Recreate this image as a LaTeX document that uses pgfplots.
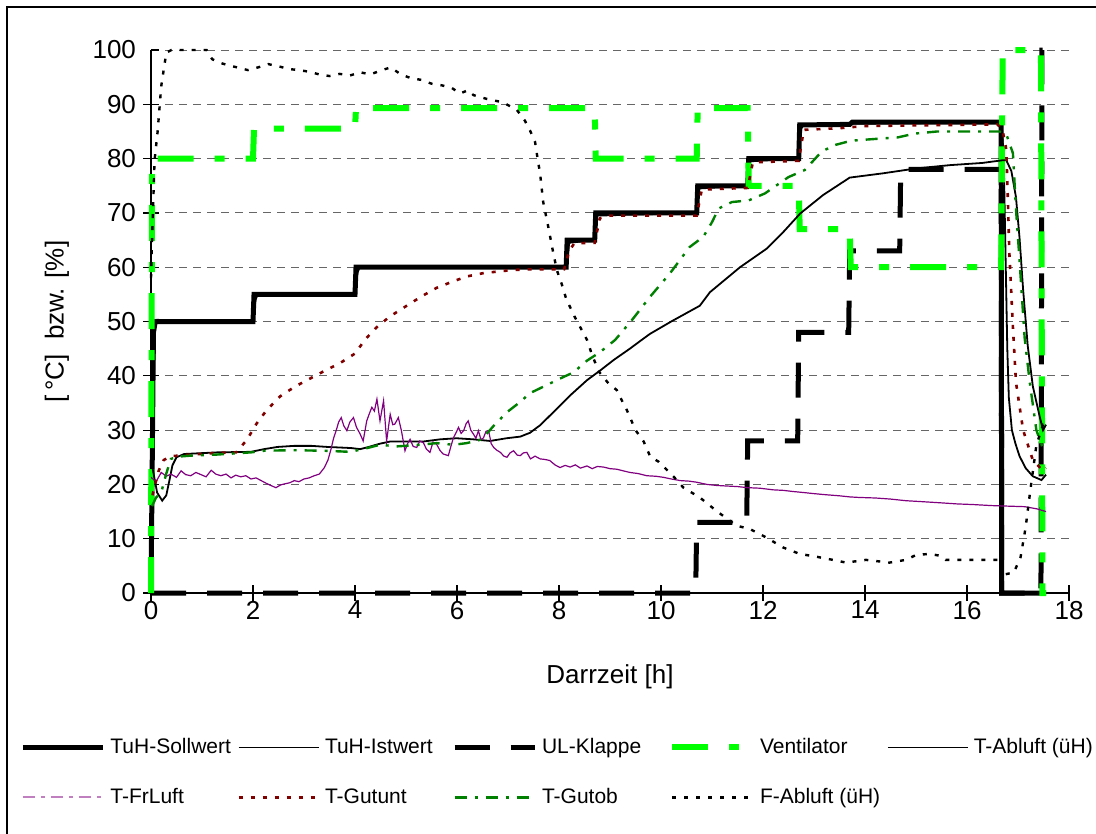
\documentclass[border=0pt]{standalone}
\usepackage{fontspec}
\setmainfont{Liberation Sans}
\usepackage{pgfplots}
\pgfplotsset{compat=1.18}
\definecolor{vgreen}{RGB}{0,255,0}
\definecolor{dgreen}{RGB}{0,128,0}
\definecolor{dred}{RGB}{128,0,0}
\definecolor{fpurple}{RGB}{128,0,128}
\definecolor{lpurple}{RGB}{192,128,192}
\begin{document}
\begin{tikzpicture}
\useasboundingbox (0pt,0pt) rectangle (548pt,-417pt);
\draw[line width=1pt] (3.5pt,-417pt) -- (3.5pt,-3.5pt) -- (548pt,-3.5pt);
\begin{axis}[
  at={(75.5pt,-296.5pt)}, anchor=south west,
  scale only axis, width=459pt, height=271.5pt,
  xmin=0, xmax=18, ymin=0, ymax=100,
  xtick={0,2,...,18}, ytick={0,10,...,100},
  axis lines*=left,
  axis line style={line width=0.6pt},
  clip=false,
  ymajorgrids,
  major grid style={dash pattern=on 4pt off 3pt, line width=0.5pt, black!60},
  major tick length=8pt,
  xtick align=center,
  ytick align=center,
  tick style={line width=0.6pt, black},
  y tick style={shorten <=4pt},
  /pgf/number format/assume math mode=true,
  tick label style={font=\fontsize{13}{15}\selectfont},
  xticklabel style={yshift=3.5pt},
  xlabel={Darrzeit [h]}, ylabel={[\,°C]\ \ bzw. [\%]},
  label style={font=\fontsize{13}{15}\selectfont},
  xlabel style={at={(axis description cs:0.5,-0.1547)}, anchor=center},
  ylabel style={at={(axis description cs:-0.1024,0.5)}, anchor=center},
  legend columns=5,
  legend style={at={(axis description cs:-0.1427,-0.2615)}, anchor=north west, draw=none, fill=none, inner sep=0pt, font=\fontsize{10.5}{12}\selectfont, nodes={inner sep=0pt, minimum height=12pt}, /tikz/column sep=0pt, /tikz/row sep=13pt},
  legend cell align=left,
  legend image code/.code={\draw[#1] (0pt,0pt) -- (40pt,0pt);},
]
% TuH-Sollwert
\addplot[black, line width=2.5pt] coordinates {
(0,0) (0.05,50) (2.0,50) (2.02,55) (4.0,55) (4.02,60) (8.14,60) (8.16,65) (8.7,65) (8.72,70) (10.7,70) (10.72,75) (11.7,75) (11.72,80) (12.7,80) (12.72,86.2) (13.7,86.3) (13.75,86.7) (16.67,86.7) (16.68,0) (17.55,0)};
\addlegendentry{\hspace{2.5pt}\makebox[63.5pt][l]{TuH-Sollwert}}
% TuH-Istwert
\addplot[black, line width=0.9pt] coordinates {
(0,24) (0.03,30) (0.08,48) (0.12,50.3) (1,50.2) (2.0,50.2) (2.05,54) (2.1,55.2) (4.0,55.2) (4.05,59) (4.1,60.2) (8.15,60) (8.2,64.5) (8.7,65) (8.75,69.5) (10.7,70) (10.75,74.5) (11.7,75) (11.75,79.5) (12.7,80) (12.75,85.5) (12.8,86.3) (16.67,86.7) (16.68,86.5) (16.72,80) (16.76,60) (16.79,45) (16.82,36) (16.88,30) (16.95,27.5) (17.03,25.2) (17.15,23) (17.29,21.5) (17.46,20.8) (17.55,21.8)};
\addlegendentry{\hspace{2.5pt}\makebox[63.5pt][l]{TuH-Istwert}}
% UL-Klappe
\addplot[black, line width=2.5pt, dash pattern=on 17.5pt off 10.5pt] coordinates {
(0,0) (10.68,0) (10.7,13) (11.68,13) (11.7,28) (12.68,28) (12.7,48) (13.68,48) (13.7,63) (14.68,63) (14.7,78) (16.67,78) (16.68,0) (17.45,0) (17.47,100) (17.55,100)};
\addlegendentry{\hspace{2.5pt}\makebox[63.5pt][l]{UL-Klappe}}
% Ventilator
\addplot[vgreen, line width=3pt, dash pattern=on 18pt off 10.5pt on 5pt off 10.5pt] coordinates {
(0,0) (0.02,80) (2.0,80) (2.02,85.5) (4.0,85.5) (4.02,89.3) (8.7,89.3) (8.72,80) (10.7,80) (10.72,89.3) (11.7,89.3) (11.72,75) (12.7,75) (12.72,67) (13.7,67) (13.72,60) (16.67,60) (16.7,100) (17.45,100) (17.48,0) (17.55,0)};
\addlegendentry{\hspace{2.5pt}\makebox[63.5pt][l]{Ventilator}}
% T-Abluft
\addplot[black, line width=0.9pt] coordinates {
(0,24.5) (0.05,22) (0.12,18.5) (0.22,17) (0.3,18) (0.36,20.7) (0.42,23.5) (0.5,25) (0.65,25.6) (1.3,25.9) (1.96,26) (2.22,26.5) (2.48,26.9) (2.81,27.1) (3.14,27.1) (3.46,26.9) (3.92,26.7) (4.1,26.5) (4.23,26.8) (4.49,27.5) (4.69,27.9) (5.34,27.9) (5.67,28.3) (5.99,28.5) (6.32,28.3) (6.65,28) (6.97,28.5) (7.24,28.8) (7.43,29.5) (7.63,30.9) (7.89,33.3) (8.22,36.4) (8.55,39.2) (8.81,41) (9.07,42.9) (9.39,45) (9.62,46.6) (9.78,47.7) (10.2,50) (10.76,52.9) (10.96,55.4) (11.55,60) (12.07,63.4) (12.4,66.5) (12.73,69.9) (13.18,73.3) (13.7,76.5) (14.36,77.3) (15.01,78.2) (15.67,78.8) (16.3,79.2) (16.7,79.7) (16.77,79.7) (16.87,77.7) (16.96,72.9) (17.03,65.4) (17.1,55.9) (17.19,45.6) (17.29,38.1) (17.42,32.7) (17.49,30) (17.55,31)};
\addlegendentry{\hspace{2.5pt}\makebox[63.5pt][l]{T-Abluft (üH)}}
% T-FrLuft
\addplot[fpurple, line width=0.6pt, legend image post style={lpurple, line width=1pt, dash pattern=on 6pt off 3pt on 2pt off 3pt}] coordinates {
(0,21.3) (0.1,20.5) (0.2,22.2) (0.3,21.5) (0.39,21.9) (0.5,21.3) (0.59,22.5) (0.68,21.8) (0.78,21.6) (0.88,22.2) (0.98,21.8) (1.08,21.4) (1.18,22.6) (1.27,21.9) (1.37,21.6) (1.47,21.9) (1.57,21.2) (1.66,21.7) (1.76,21.4) (1.86,21.6) (1.96,21.0) (2.06,21.2) (2.16,20.7) (2.26,20.2) (2.35,19.8) (2.45,19.4) (2.54,19.9) (2.62,20.1) (2.72,20.3) (2.81,20.7) (2.9,20.5) (3.0,21.0) (3.1,21.2) (3.2,21.6) (3.3,21.9) (3.4,23.1) (3.47,24.5) (3.53,26.5) (3.58,28.5) (3.63,29.9) (3.68,31.5) (3.73,32.3) (3.78,30.8) (3.84,29.9) (3.9,31.5) (3.97,32.3) (4.03,30.5) (4.1,29.3) (4.16,28) (4.23,31.7) (4.28,33) (4.33,34.2) (4.38,33.5) (4.43,35.7) (4.49,31.7) (4.56,35.4) (4.62,28) (4.69,32.9) (4.74,31) (4.78,31.1) (4.85,32.3) (4.91,29.9) (4.98,26.2) (5.03,27.5) (5.08,28.3) (5.14,27) (5.21,26.8) (5.27,28) (5.34,27.7) (5.4,26.5) (5.47,25.9) (5.53,27.8) (5.6,27.4) (5.67,26.2) (5.73,25.6) (5.83,25.3) (5.88,27) (5.93,28.6) (5.98,29.5) (6.03,30.5) (6.08,29.4) (6.13,29.9) (6.18,31.2) (6.22,31.7) (6.27,30) (6.32,29.3) (6.37,28.5) (6.42,29.9) (6.47,28.2) (6.52,28.6) (6.57,29.8) (6.62,29.9) (6.67,27.5) (6.72,26.8) (6.78,26.3) (6.85,25.9) (6.92,25.2) (6.98,25) (7.04,25.8) (7.11,26.2) (7.18,25.4) (7.24,25.3) (7.3,25.8) (7.37,25.9) (7.44,24.7) (7.53,25.2) (7.63,24.7) (7.72,24.6) (7.82,24.4) (7.92,23.6) (8.02,23.1) (8.12,23.5) (8.22,23.2) (8.32,23.6) (8.42,23.0) (8.55,23.4) (8.65,22.9) (8.75,23.3) (8.87,23.2) (9.0,22.9) (9.13,22.8) (9.26,22.5) (9.39,22.2) (9.55,22.0) (9.72,21.6) (9.9,21.5) (10.05,21.3) (10.2,21.0) (10.38,20.7) (10.55,20.6) (10.7,20.4) (10.9,20.0) (11.1,19.8) (11.3,19.7) (11.5,19.6) (11.7,19.4) (11.94,19.3) (12.2,19.0) (12.4,18.9) (12.58,18.7) (12.8,18.5) (13.0,18.3) (13.23,18.1) (13.5,17.9) (13.7,17.7) (13.88,17.6) (14.2,17.5) (14.5,17.3) (14.8,17.0) (15.16,16.8) (15.5,16.6) (15.82,16.4) (16.1,16.3) (16.48,16.1) (16.8,16.0) (17.13,15.9) (17.37,15.5) (17.55,15.0)};
\addlegendentry{\hspace{2.5pt}\makebox[63.5pt][l]{T-FrLuft}}
% T-Gutunt
\addplot[dred, line width=1.3pt, dash pattern=on 2pt off 4pt] coordinates {
(0.03,18) (0.08,20) (0.15,22.5) (0.25,24.5) (0.4,25.2) (0.8,25.5) (1.3,25.8) (1.67,25.9) (1.88,28.2) (2.07,31.2) (2.27,33.7) (2.53,36.2) (2.82,38) (3.12,39.5) (3.44,41.1) (3.7,42.3) (4.0,44.1) (4.2,46.7) (4.42,48.9) (4.68,50.9) (4.98,52.7) (5.3,54.6) (5.6,56.2) (5.9,57.3) (6.19,58.3) (6.51,58.9) (6.8,59.2) (7.1,59.5) (7.42,59.6) (8.1,59.6) (8.2,63) (8.3,64.4) (8.7,64.5) (8.8,69) (9.0,69.5) (10.7,69.5) (10.8,74.3) (11.7,74.6) (11.8,79.3) (12.7,79.6) (12.8,85.3) (13.5,85.6) (14,86) (16.6,86.3) (16.7,85.1) (16.77,81.7) (16.8,72.9) (16.83,62.7) (16.9,49) (16.96,38.8) (17.1,30) (17.29,24.5) (17.49,22.5) (17.55,23)};
\addlegendentry{\hspace{2.5pt}\makebox[63.5pt][l]{T-Gutunt}}
% T-Gutob
\addplot[dgreen, line width=1.2pt, dash pattern=on 6pt off 4pt on 1.5pt off 4pt] coordinates {
(0.02,16) (0.1,17.6) (0.2,18.5) (0.3,22) (0.39,24.7) (0.52,25.1) (0.78,25.3) (1.3,25.5) (1.96,25.9) (2.22,26.2) (2.75,26.3) (3.4,26.2) (3.9,26) (4.16,26.5) (4.49,27.3) (4.82,27) (5.27,27.3) (5.6,27.6) (5.93,27.3) (6.19,27.6) (6.45,28.2) (6.58,29.3) (6.72,30.8) (6.98,33.3) (7.24,35.2) (7.43,36.8) (7.76,38.3) (8.09,39.8) (8.28,40.6) (8.55,42.8) (8.81,44.4) (9.1,46.6) (9.45,50.5) (9.78,54.5) (10.17,58.8) (10.56,63.7) (10.83,65.6) (11.0,68.3) (11.13,70.8) (11.39,72.0) (11.72,72.3) (12.04,73.6) (12.5,76.6) (12.82,77.9) (13.15,81.3) (13.41,82.5) (13.73,83.3) (14.32,83.7) (14.64,83.9) (14.97,84.6) (15.42,85.0) (16.0,85.0) (16.64,85.0) (16.77,84.5) (16.9,81) (16.96,70.8) (17.03,61.3) (17.13,47) (17.23,38.8) (17.36,30) (17.49,26.6) (17.55,26.5)};
\addlegendentry{\hspace{2.5pt}\makebox[63.5pt][l]{T-Gutob}}
% F-Abluft
\addplot[black, line width=1.2pt, dash pattern=on 2pt off 4pt] coordinates {
(0,58) (0.03,68) (0.07,79.7) (0.13,85) (0.2,93.3) (0.3,99.5) (0.4,100) (1.09,100) (1.2,98.3) (1.4,97.5) (1.6,97) (1.9,96.3) (2.1,96.8) (2.3,97.4) (2.5,97) (2.7,96.5) (2.9,96.3) (3.1,96) (3.3,95.5) (3.5,95.2) (3.7,95.6) (3.9,95.3) (4.1,95.9) (4.3,95.5) (4.5,96.2) (4.7,96.8) (4.9,95.5) (5.1,94.8) (5.3,94.5) (5.5,93.8) (5.7,93.5) (5.9,93) (6.06,92) (6.22,92.6) (6.32,91.7) (6.58,91) (6.88,90.4) (6.97,90) (7.17,89) (7.33,87) (7.43,85.2) (7.53,83.1) (7.58,80) (7.63,77.2) (7.69,72) (7.79,67.4) (7.89,62.5) (7.96,59.4) (8.05,57) (8.14,54.2) (8.3,51) (8.55,46.6) (8.65,43.8) (8.78,40.8) (8.97,38.6) (9.13,37.4) (9.23,35.5) (9.33,33.7) (9.5,30) (9.66,27.9) (9.79,25.1) (9.95,24.2) (10.08,23) (10.25,21.4) (10.44,19.4) (10.76,17.6) (11.09,15.1) (11.48,12.4) (11.74,11.8) (12.07,10.2) (12.39,8.4) (12.72,7.2) (13.04,6.7) (13.37,6.1) (13.63,5.6) (14.02,6.1) (14.48,5.6) (14.8,6.1) (15.0,7.0) (15.26,7.2) (15.45,6.9) (15.58,6.1) (16.1,6.1) (16.66,6.1) (16.73,3.4) (16.92,3.8) (17.05,6.6) (17.15,12.1) (17.24,18.8) (17.36,27.2) (17.49,31) (17.55,31)};
\addlegendentry{\hspace{2.5pt}\makebox[63.5pt][l]{F-Abluft (üH)}}
\end{axis}
\end{tikzpicture}
\end{document}
